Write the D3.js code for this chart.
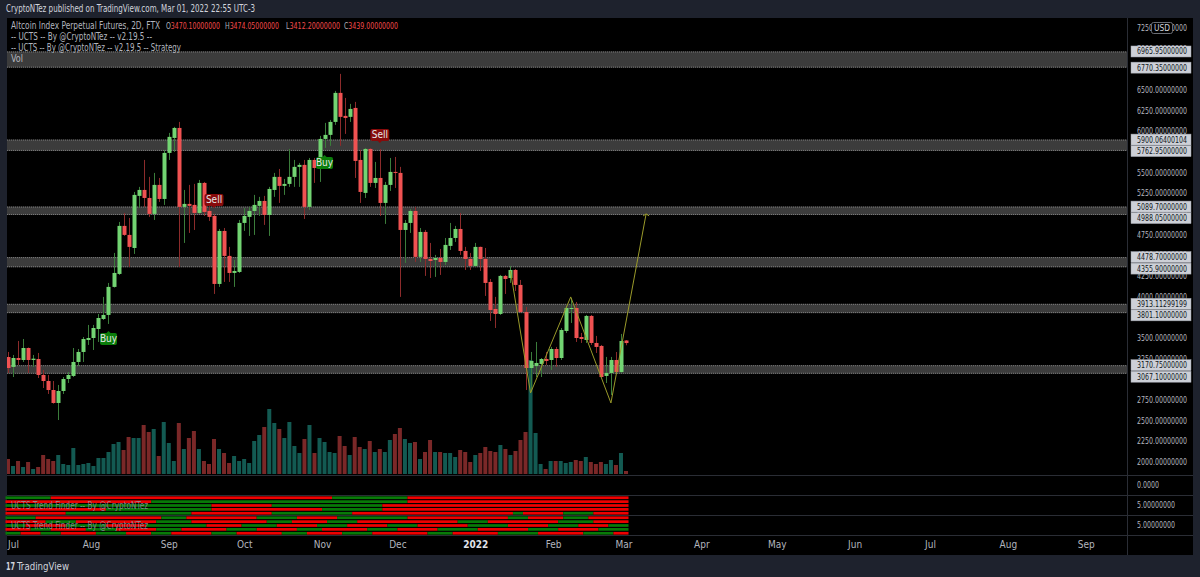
<!DOCTYPE html>
<html>
<head>
<meta charset="utf-8">
<script src="https://cdn.jsdelivr.net/npm/d3@7"></script>
<style>
  body { margin: 0; background: #1e222d; }
  svg { display: block; }
  text { font-family: "Liberation Sans Narrow", "DejaVu Sans Condensed", sans-serif; }
</style>
</head>
<body>
<svg id="chart" width="1200" height="577"></svg>
<script>
// ---- data ----
const opens = [3270,3150,3258,3234,3379,3234,3246,3053,2980,2871,2714,2859,3004,3041,3210,3331,3476,3500,3609,3730,
  3779,4118,4275,4856,4747,4589,5219,5291,5194,5001,5352,5182,5739,5920,6041,5086,5122,5110,5013,5376,
  5037,4977,4154,4795,4493,4287,4299,4892,4965,5037,5098,5158,4989,5291,5449,5340,5364,5449,5570,5594,
  5086,5654,5654,5908,5957,6114,6465,6187,6175,6283,5654,5255,5787,5376,5436,5134,5352,5509,5497,4807,
  4892,5037,4481,4783,4456,4444,4468,4420,4614,4710,4819,4553,4456,4372,4602,4456,4178,3851,3791,4251,
  4226,4323,4142,3815,3137,3162,3186,3246,3234,3367,3258,3585,3851,3863,3512,3476,3767,3440,3404,3041,
  3077,3234,3089,3470.1];
const highs = [3331,3295,3464,3488,3385,3295,3319,3113,3053,2980,2932,3028,3089,3379,3367,3512,3658,3658,3791,3997,
  4166,4529,4904,5013,4952,5267,5328,5654,5449,5497,5436,5775,5981,6054,6114,5291,5352,5364,5412,5388,
  5086,5001,4819,4831,4602,4444,4928,5073,5086,5231,5207,5219,5328,5497,5545,5424,5787,5654,5618,5654,
  5678,5678,5945,6102,6138,6489,6695,6404,6332,6356,5775,5799,5799,5630,5787,5388,5678,5690,5570,4928,
  5061,5086,4831,4807,4650,4505,4577,4710,4892,4856,5013,4602,4529,4650,4605,4589,4214,3997,4263,4263,
  4372,4335,4202,3876,3331,3452,3258,3331,3392,3392,3621,3888,3984,3936,3561,3779,3779,3525,3416,3271,
  3271,3331,3549,3474.05];
const lows = [3077,3028,3174,3210,3077,3150,3016,2895,2823,2705,2508,2823,2956,3028,3162,3210,3416,3355,3452,3718,
  3670,4110,4263,4735,4360,4517,5073,5086,4965,4928,5146,5110,5654,5751,4360,4650,4771,4807,5001,4977,
  4916,4033,4118,4178,4178,4118,4287,4795,4735,4747,4977,4868,4735,5207,5134,5231,5328,5328,5328,4940,
  5049,5376,5388,5799,5824,6078,5824,5969,6114,5436,5134,5194,5328,5315,4977,4880,5279,5315,3997,4408,
  4771,4420,4420,4251,4226,4239,4263,4384,4565,4662,4505,4323,4323,4360,4311,4009,3706,3621,3779,4033,
  4166,4069,3803,2871,2847,3028,3028,3174,3113,3150,3234,3561,3682,3452,3440,3440,3416,3319,3020,2956,
  2811,3077,3077,3412.2];
const closes = [3137,3258,3234,3379,3234,3250,3053,2980,2871,2714,2859,3004,3053,3210,3331,3488,3500,3621,3742,3779,
  4118,4287,4856,4747,4602,5231,5291,5194,5001,5352,5182,5739,5933,6041,5086,5122,5098,5013,5376,5025,
  4965,4154,4795,4493,4287,4311,4892,4977,5037,5110,5158,4989,5303,5449,5340,5364,5449,5570,5594,5086,
  5654,5557,5908,5957,6114,6465,6175,6162,6271,5642,5267,5787,5376,5436,5134,5352,5509,5497,4807,4892,
  5037,4481,4783,4456,4432,4468,4420,4626,4710,4819,4553,4456,4372,4602,4456,4166,3839,3791,4251,4214,
  4323,4142,3815,3137,3222,3198,3246,3222,3367,3258,3597,3863,3863,3500,3488,3767,3440,3392,3028,3077,
  3234,3089,3464,3439];
const volumes = [15,8,13,7,12,5,7,19,15,13,19,10,9,26,9,10,11,8,16,16,
  22,30,32,24,37,36,36,49,42,45,18,52,31,13,51,25,36,43,25,13,
  10,35,25,21,11,18,13,15,11,33,39,47,65,51,45,36,52,28,21,35,
  49,21,36,32,22,21,38,28,19,37,27,25,33,22,25,22,34,40,46,35,
  31,32,15,22,34,22,22,21,21,17,24,22,12,19,21,27,23,22,29,25,
  19,23,34,42,114,41,10,5,13,13,13,11,12,14,13,17,12,10,12,10,
  14,9,21,3];

const zoneHigh = [6965.95, 5900.06400104, 5089.70, 4478.70, 3913.11299199, 3170.75];
const zoneLow  = [6770.35, 5762.95, 4988.05, 4355.90, 3801.10, 3067.10];

const priceTicks = [2000,2250,2500,2750,3000,3250,3500,3750,4000,4250,4500,4750,5000,5250,5500,5750,6000,6250,6500,6750,7000,7250];
const monthLabels = ["Jul","Aug","Sep","Oct","Nov","Dec","2022","Feb","Mar","Apr","May","Jun","Jul","Aug","Sep"];

const signalBar  = [20, 41, 63, 74];
const signalText = ["Buy", "Sell", "Buy", "Sell"];

const patternDates  = ["2022-01-14", "2022-01-22", "2022-02-07", "2022-02-23", "2022-03-09"];
const patternPrices = [4311, 2835, 3997, 2714, 5001];

// trend finder rows: [first bar, colour] runs
const trendA = [
  [[0,"g"],[9,"r"],[65,"g"],[80,"r"]],
  [[0,"r"],[29,"g"],[80,"r"]],
  [[0,"g"],[41,"r"],[53,"g"],[75,"r"]],
  [[0,"r"],[20,"g"],[41,"r"],[63,"g"],[75,"r"]],
  [[0,"r"],[12,"g"],[37,"r"],[53,"g"],[69,"r"],[101,"g"],[103,"r"],[111,"g"],[117,"r"]]
];
const trendB = [
  [[0,"g"],[6,"r"],[31,"g"],[36,"r"],[50,"g"],[58,"r"],[66,"g"],[80,"r"],[100,"g"],[104,"r"],[111,"g"],[116,"r"]],
  [[0,"r"],[8,"g"],[14,"r"],[30,"g"],[37,"r"],[52,"g"],[57,"r"],[64,"g"],[70,"r"],[90,"g"],[96,"r"],[110,"g"],[117,"r"]],
  [[0,"g"],[4,"r"],[12,"g"],[20,"r"],[28,"g"],[40,"r"],[47,"g"],[54,"r"],[62,"g"],[68,"r"],[76,"g"],[82,"r"],[92,"g"],[100,"r"],[108,"g"],[114,"r"],[120,"g"]],
  [[0,"r"],[5,"g"],[9,"r"],[16,"g"],[22,"r"],[30,"g"],[35,"r"],[44,"g"],[50,"r"],[58,"g"],[63,"r"],[72,"g"],[78,"r"],[86,"g"],[94,"r"],[104,"g"],[110,"r"],[118,"g"]],
  [[0,"g"],[3,"r"],[7,"g"],[11,"r"],[18,"g"],[24,"r"],[29,"g"],[33,"r"],[41,"g"],[46,"r"],[55,"g"],[60,"r"],[67,"g"],[73,"r"],[84,"g"],[89,"r"],[98,"g"],[106,"r"],[115,"g"],[121,"r"]]
];

// ---- layout ----
const svg = d3.select("#chart");
const plotLeft = 7, plotRight = 1127, axisRight = 1193;
const plotTop = 18, mainBottom = 475;
const dates = d3.timeDay.range(new Date(2021, 5, 28), new Date(2022, 2, 2), 2);
const parse = d3.timeParse("%Y-%m-%d");

const x = d3.scaleTime().domain([dates[0], dates[dates.length - 1]]).range([8, 626]);
const y = d3.scaleLinear().domain([2000, 7250]).range([462, 28]);
const yVol = d3.scaleLinear().domain([0, 120]).range([474, 354]);
const step = x(dates[1]) - x(dates[0]);

const grey = "#b2b5be";

// text helper: squeezes text to the width it has in the picture
function label(parent, tx, ty, str, len, size, fill) {
  const t = parent.append("text").attr("x", tx).attr("y", ty).attr("font-size", size || 8)
    .attr("fill", fill || grey).text(str);
  if (len) t.attr("textLength", len).attr("lengthAdjust", "spacingAndGlyphs");
  return t;
}

svg.append("rect").attr("width", 1200).attr("height", 577).attr("fill", "#1e222d");
label(svg, 6, 12, "CryptoNTez published on TradingView.com, Mar 01, 2022 22:55 UTC-3", 249, 10.5, "#d1d4dc");

svg.append("rect").attr("x", plotLeft).attr("y", plotTop).attr("width", axisRight - plotLeft).attr("height", 555 - plotTop).attr("fill", "#000");

svg.append("clipPath").attr("id", "plot").append("rect")
  .attr("x", plotLeft).attr("y", plotTop).attr("width", plotRight - plotLeft).attr("height", mainBottom - plotTop);
const plot = svg.append("g").attr("clip-path", "url(#plot)");

// zones
const zones = plot.selectAll(".zone").data(zoneHigh).enter().append("g");
zones.append("rect")
  .attr("x", plotLeft).attr("width", plotRight - plotLeft)
  .attr("y", d => y(d)).attr("height", (d, i) => y(zoneLow[i]) - y(d))
  .attr("fill", "#3c3c3c");
zones.append("line").attr("x1", plotLeft).attr("x2", plotRight)
  .attr("y1", d => y(d) + 0.5).attr("y2", d => y(d) + 0.5)
  .attr("stroke", "#7a7a7a").attr("stroke-dasharray", "1,1");
zones.append("line").attr("x1", plotLeft).attr("x2", plotRight)
  .attr("y1", (d, i) => y(zoneLow[i]) - 0.5).attr("y2", (d, i) => y(zoneLow[i]) - 0.5)
  .attr("stroke", "#7a7a7a").attr("stroke-dasharray", "1,1");

// volume
plot.selectAll(".vol").data(volumes).enter().append("rect")
  .attr("x", (d, i) => x(dates[i]) - 2)
  .attr("width", 4)
  .attr("y", d => yVol(d))
  .attr("height", d => yVol(0) - yVol(d))
  .attr("fill", (d, i) => closes[i] >= opens[i] ? "#135a52" : "#7a2828");

// candles
const candle = plot.selectAll(".candle").data(opens).enter().append("g");
candle.append("line")
  .attr("x1", (d, i) => Math.round(x(dates[i])) + 0.5)
  .attr("x2", (d, i) => Math.round(x(dates[i])) + 0.5)
  .attr("y1", (d, i) => y(highs[i])).attr("y2", (d, i) => y(lows[i]))
  .attr("stroke", (d, i) => closes[i] >= opens[i] ? "#3b7d3b" : "#8c2b2b");
candle.append("rect")
  .attr("x", (d, i) => Math.round(x(dates[i])) - 1.5)
  .attr("width", 4)
  .attr("y", (d, i) => y(Math.max(d, closes[i])))
  .attr("height", (d, i) => Math.max(1, Math.abs(y(d) - y(closes[i]))))
  .attr("fill", (d, i) => closes[i] >= opens[i] ? "#72d472" : "#f05252");

// zigzag projection
const zig = patternDates.map((d, i) => [x(parse(d)), y(patternPrices[i])]);
plot.append("path").attr("d", d3.line()(zig))
  .attr("fill", "none").attr("stroke", "#9a9a2a").attr("stroke-width", 1);
const tip = zig[zig.length - 1];
plot.append("path")
  .attr("d", `M${tip[0] - 3},${tip[1] + 2}L${tip[0]},${tip[1]}L${tip[0] + 3},${tip[1] + 2}`)
  .attr("fill", "none").attr("stroke", "#9a9a2a");

// buy / sell tags
signalBar.forEach((b, i) => {
  const isBuy = signalText[i] === "Buy";
  const cx = x(dates[b]);
  const w = isBuy ? 17 : 19, h = 12;
  const by = isBuy ? y(lows[b]) + 9 : y(highs[b]) - 8 - h;
  const col = isBuy ? "#0b7d0b" : "#870b0b";
  const g = plot.append("g");
  g.append("rect").attr("x", cx - w / 2).attr("y", by).attr("width", w).attr("height", h).attr("rx", 2).attr("fill", col);
  const py = isBuy ? by : by + h;
  const dir = isBuy ? -2 : 2;
  g.append("path").attr("d", `M${cx - 2},${py}L${cx},${py + dir}L${cx + 2},${py}Z`).attr("fill", col);
  g.append("text").attr("x", cx).attr("y", by + 9.5).attr("text-anchor", "middle")
    .attr("fill", "#e6e6e6").attr("font-size", 10).text(signalText[i]);
});

// legend
const last = opens.length - 1;
label(svg, 11, 29, "Altcoin Index Perpetual Futures, 2D, FTX", 149, 10);
const ohlc = [["O", opens[last], 166], ["H", highs[last], 225], ["L", lows[last], 286], ["C", closes[last], 344]];
ohlc.forEach(p => {
  const t = svg.append("text").attr("x", p[2]).attr("y", 29).attr("font-size", 9).attr("fill", grey)
    .attr("textLength", 54).attr("lengthAdjust", "spacingAndGlyphs");
  t.append("tspan").text(p[0]);
  t.append("tspan").attr("fill", "#f04a4a").text(p[1].toFixed(8));
});
label(svg, 11, 40, "-- UCTS -- By @CryptoNTez -- v2.19.5 --", 141, 10);
label(svg, 11, 51, "-- UCTS -- By @CryptoNTez -- v2.19.5 -- Strategy", 170, 10);
label(svg, 11, 62, "Vol", 12, 10);

// pane separators
[475.5, 495.5, 515.5, 535.5].forEach(v => {
  svg.append("line").attr("x1", plotLeft).attr("x2", axisRight).attr("y1", v).attr("y2", v).attr("stroke", "#2a2d35");
});
svg.append("line").attr("x1", plotRight + 0.5).attr("x2", plotRight + 0.5).attr("y1", plotTop).attr("y2", 555).attr("stroke", "#2a2d35");

// right price axis
priceTicks.forEach(d => label(svg, 1137, y(d) + 3, d.toFixed(8), 50));

// zone price tags
const tagY = [];
zoneHigh.forEach((hi, i) => {
  const a = y(hi), b = Math.max(y(zoneLow[i]), a + 11.5);
  tagY.push([hi, a], [zoneLow[i], b]);
});
tagY.forEach(d => {
  svg.append("rect").attr("x", 1131).attr("y", d[1] - 5.5).attr("width", 60).attr("height", 11)
    .attr("fill", "#cdd0d7").attr("stroke", "#9ea2ab").attr("stroke-width", 0.5);
  label(svg, 1137, d[1] + 3, d[0].toFixed(8), 50, 8, "#131722");
});

// USD badge
svg.append("rect").attr("x", 1151.5).attr("y", 22.5).attr("width", 21).attr("height", 11).attr("rx", 2)
  .attr("fill", "#000").attr("stroke", "#6a6d75");
label(svg, 1154, 31, "USD", 16, 8.5, "#d1d4dc");

// lower panes
label(svg, 1137, 488, "0.0000", 22);
label(svg, 1137, 508, "5.00000000", 38);
label(svg, 1137, 528, "5.00000000", 38);

function drawTrend(rows, y0, y1) {
  const band = d3.scaleBand().domain(d3.range(rows.length)).range([y0, y1]).paddingInner(0.3).paddingOuter(0.1);
  rows.forEach((runs, r) => {
    runs.forEach((run, k) => {
      const end = k + 1 < runs.length ? runs[k + 1][0] - 1 : dates.length - 1;
      svg.append("rect")
        .attr("x", x(dates[run[0]]) - step / 2)
        .attr("width", x(dates[end]) - x(dates[run[0]]) + step)
        .attr("y", band(r)).attr("height", band.bandwidth())
        .attr("fill", run[1] === "g" ? "#087a08" : "#ee0000");
    });
  });
}
drawTrend(trendA, 496, 515);
drawTrend(trendB, 516, 535);
label(svg, 11, 509, "UCTS Trend Finder -- By @CryptoNTez", 137, 10, "#8f939c").attr("fill-opacity", 0.85);
label(svg, 11, 529, "UCTS Trend Finder -- By @CryptoNTez", 137, 10, "#8f939c").attr("fill-opacity", 0.85);

// time axis
const months = d3.timeMonth.range(new Date(2021, 6, 1), new Date(2022, 8, 2));
svg.selectAll(".month").data(months).enter().append("text")
  .attr("x", d => x(d) - 2).attr("y", 548).attr("text-anchor", "middle")
  .attr("font-size", 10)
  .attr("fill", (d, i) => monthLabels[i] === "2022" ? "#e0e3eb" : grey)
  .attr("font-weight", (d, i) => monthLabels[i] === "2022" ? "bold" : null)
  .text((d, i) => monthLabels[i]);

// footer
label(svg, 6, 570, "17", 9, 11, "#d1d4dc").attr("font-weight", "bold");
label(svg, 17, 570, "TradingView", 52, 10, "#d1d4dc");
</script>
</body>
</html>
